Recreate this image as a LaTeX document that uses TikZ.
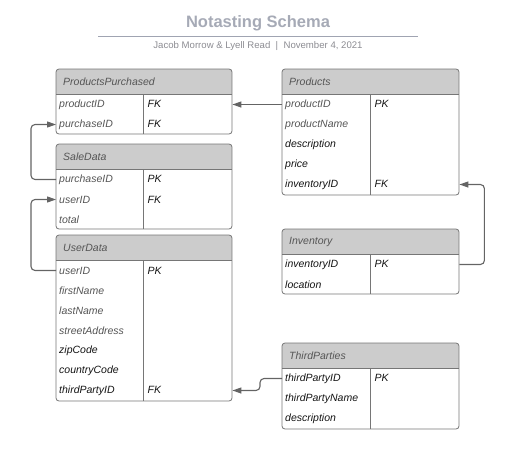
\documentclass[tikz,border=0pt]{standalone}
\usepackage{fontspec}
\setmainfont{Liberation Sans}
\usetikzlibrary{arrows.meta}
\definecolor{titlegray}{RGB}{166,170,182}
\definecolor{rulegray}{RGB}{160,164,178}
\definecolor{subgray}{RGB}{140,140,146}
\definecolor{hdrgray}{RGB}{204,204,204}
\definecolor{bordergray}{RGB}{118,118,118}
\definecolor{conngray}{RGB}{100,100,100}
\definecolor{dimtext}{RGB}{85,85,85}
\definecolor{darktext}{RGB}{20,20,20}
\tikzset{
  tblframe/.style={fill=white, inner sep=0pt, outer sep=0pt},
  tblborder/.style={draw=bordergray, line width=0.8pt, rounded corners=3pt},
  divline/.style={draw=bordergray, line width=0.8pt},
  hdrtext/.style={font=\itshape\fontsize{10.5}{12}\selectfont, text=dimtext, inner sep=0pt},
  rowtext/.style={font=\itshape\fontsize{10.5}{12}\selectfont, inner xsep=3pt, inner ysep=0pt, align=left},
  keytext/.style={font=\itshape\fontsize{10.5}{12}\selectfont, text=darktext, inner sep=0pt},
  dim/.style={text=dimtext},
  dark/.style={text=darktext},
  conn/.style={draw=conngray, line width=1.1pt, rounded corners=4pt, -{Triangle[length=9pt,width=6pt]}},
}
% #1 name, #2 x, #3 y, #4 height, #5 width, #6 divider offset, #7 title
\newcommand{\ertable}[7]{%
  \node[tblframe, minimum width=#5pt, minimum height=#4pt, anchor=north west] (#1) at (#2,-#3) {};
  \begin{scope}
    \clip[rounded corners=3pt] (#1.north west) rectangle (#1.south east);
    \fill[hdrgray] (#1.north west) rectangle ([yshift=-25pt]#1.north east);
  \end{scope}
  \draw[divline] ([yshift=-25pt]#1.north west) -- ([yshift=-25pt]#1.north east);
  \draw[divline] ([xshift=#6pt,yshift=-25pt]#1.north west) -- ([xshift=#6pt]#1.south west);
  \draw[tblborder] (#1.north west) rectangle (#1.south east);
  \node[hdrtext, anchor=west] (#1-title) at ([xshift=7pt,yshift=-13pt]#1.north west) {#7};
}
% #1 table, #2 text width, #3 index, #4 name, #5 text, #6 key, #7 divider offset, #8 style
\newcommand{\errow}[8]{%
  \node[rowtext, #8, text width=#2, anchor=west] (#4) at ([yshift=-35.5pt-#3*20pt]#1.north west) {#5};
  \node[keytext, anchor=base west] (#4-key) at ([xshift=#7pt+4.5pt]#4.base west) {#6};
}
\begin{document}
\begin{tikzpicture}[x=1pt,y=1pt]
\useasboundingbox (0,0) rectangle (509,-458);

% title
\node[font=\bfseries\fontsize{16.5}{19}\selectfont, text=titlegray, inner sep=0pt] (title) at (258,-23) {Notasting Schema};
\coordinate (ruleL) at (98,-36);
\coordinate (ruleR) at (418,-36);
\draw[rulegray, line width=0.8pt] (ruleL) -- (ruleR);
\node[font=\fontsize{9.6}{11}\selectfont, text=subgray, inner sep=0pt] (subtitle) at (258,-46) {Jacob Morrow \& Lyell Read~~|~~November 4, 2021};

% ProductsPurchased
\ertable{pp}{56}{69}{65}{176}{87}{ProductsPurchased}
\errow{pp}{170pt}{0}{pp-productID}{productID}{FK}{87}{dim}
\errow{pp}{170pt}{1}{pp-purchaseID}{purchaseID}{FK}{87}{dim}

% SaleData
\ertable{sd}{56}{144}{85}{176}{87}{SaleData}
\errow{sd}{170pt}{0}{sd-purchaseID}{purchaseID}{PK}{87}{dim}
\errow{sd}{170pt}{1}{sd-userID}{userID}{FK}{87}{dim}
\errow{sd}{170pt}{2}{sd-total}{total}{}{87}{dim}

% UserData
\ertable{ud}{56}{235}{166}{176}{87}{UserData}
\errow{ud}{170pt}{0}{ud-userID}{userID}{PK}{87}{dim}
\errow{ud}{170pt}{1}{ud-firstName}{firstName}{}{87}{dim}
\errow{ud}{170pt}{2}{ud-lastName}{lastName}{}{87}{dim}
\errow{ud}{170pt}{3}{ud-streetAddress}{streetAddress}{}{87}{dim}
\errow{ud}{170pt}{4}{ud-zipCode}{zipCode}{}{87}{dark}
\errow{ud}{170pt}{5}{ud-countryCode}{countryCode}{}{87}{dark}
\errow{ud}{170pt}{6}{ud-thirdPartyID}{thirdPartyID}{FK}{87}{dark}

% Products
\ertable{pr}{282}{69}{126}{177}{88}{Products}
\errow{pr}{171pt}{0}{pr-productID}{productID}{PK}{88}{dim}
\errow{pr}{171pt}{1}{pr-productName}{productName}{}{88}{dim}
\errow{pr}{171pt}{2}{pr-description}{description}{}{88}{dark}
\errow{pr}{171pt}{3}{pr-price}{price}{}{88}{dark}
\errow{pr}{171pt}{4}{pr-inventoryID}{inventoryID}{FK}{88}{dark}

% Inventory
\ertable{inv}{282}{229}{65}{177}{88}{Inventory}
\errow{inv}{171pt}{0}{inv-inventoryID}{inventoryID}{PK}{88}{dark}
\errow{inv}{171pt}{1}{inv-location}{location}{}{88}{dark}

% ThirdParties
\ertable{tp}{282}{343}{86}{177}{88}{ThirdParties}
\errow{tp}{171pt}{0}{tp-thirdPartyID}{thirdPartyID}{PK}{88}{dark}
\errow{tp}{171pt}{1}{tp-thirdPartyName}{thirdPartyName}{}{88}{dark}
\errow{tp}{171pt}{2}{tp-description}{description}{}{88}{dark}

% connectors
\draw[conn] (pr-productID.west) -- (pp-productID.east);
\draw[conn] (sd-purchaseID.west) -- ++(-25,0) |- (pp-purchaseID.west);
\draw[conn] (ud-userID.west) -- ++(-25,0) |- (sd-userID.west);
\draw[conn] (inv-inventoryID.east) -- ++(25,0) |- (pr-inventoryID.east);
\draw[conn] (tp-thirdPartyID.west) -- ++(-22,0) |- (ud-thirdPartyID.east);
\end{tikzpicture}
\end{document}
